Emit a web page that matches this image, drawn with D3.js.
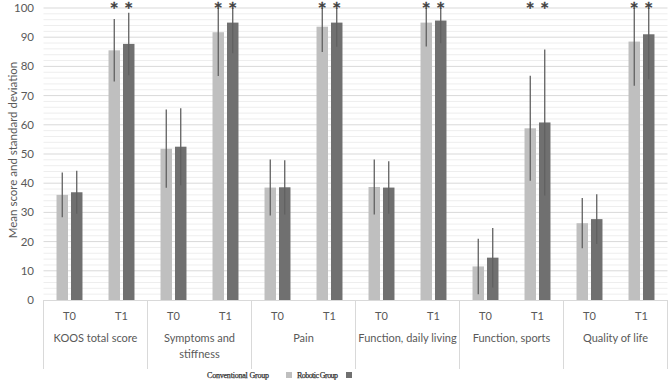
<!DOCTYPE html>
<html>
<head>
<meta charset="utf-8">
<script src="https://cdn.jsdelivr.net/npm/d3@7"></script>
<style>
  body { margin: 0; background: #fff; }
  svg { display: block; }
</style>
</head>
<body>
<svg id="chart"></svg>
<script>
// KOOS scores, conventional vs robotic group, mean and SD
const groups = ["KOOS total score", "Symptoms and stiffness", "Pain", "Function, daily living", "Function, sports", "Quality of life"];
const times = ["T0", "T1"];
const series = ["Conventional Group", "Robotic Group"];
// one value per group x time, in order T0, T1
const convMean = [36.0, 85.5, 51.8, 91.7, 38.5, 93.6, 38.7, 95.0, 11.5, 58.8, 26.3, 88.5];
const convSD   = [7.7, 10.7, 13.4, 15.0, 9.6, 8.7, 9.4, 8.2, 9.5, 18.0, 8.6, 15.1];
const robMean  = [36.9, 87.7, 52.5, 95.0, 38.6, 95.0, 38.5, 95.7, 14.5, 60.8, 27.7, 91.0];
const robSD    = [7.4, 10.7, 13.2, 10.5, 9.3, 8.3, 9.0, 7.8, 10.2, 25.0, 8.5, 15.4];
const significant = [false, true, false, true, false, true, false, true, false, true, false, true];
const yTicks = [0, 10, 20, 30, 40, 50, 60, 70, 80, 90, 100];

const W = 669, H = 380;
const plot = { left: 43.5, right: 667.5, top: 8, bottom: 300 };
const colors = ["#bfbfbf", "#707070"];
const textColor = "#595959";
const font = "Lato, 'Open Sans', sans-serif";

const svg = d3.select("#chart").attr("width", W).attr("height", H);

const x0 = d3.scaleBand().domain(groups).range([plot.left, plot.right]);
const x1 = d3.scaleBand().domain(times).range([0, x0.bandwidth()]);
const x2 = d3.scaleBand().domain(series).range([0, x1.bandwidth()])
    .paddingInner(0.207).paddingOuter(0.9);
const y = d3.scaleLinear().domain([0, 100]).range([plot.bottom, plot.top]);

// gridlines: minor every 2, major every 10
const minor = d3.range(2, 101, 2).filter(v => v % 10 !== 0);
svg.append("g").selectAll("line").data(minor).enter().append("line")
    .attr("x1", plot.left).attr("x2", plot.right)
    .attr("y1", d => y(d)).attr("y2", d => y(d))
    .attr("stroke", "#eeeeee").attr("stroke-width", 1);
svg.append("g").selectAll("line").data(yTicks.filter(v => v > 0)).enter().append("line")
    .attr("x1", plot.left).attr("x2", plot.right)
    .attr("y1", d => y(d)).attr("y2", d => y(d))
    .attr("stroke", "#d9d9d9").attr("stroke-width", 1);

// y labels
svg.append("g").selectAll("text").data(yTicks).enter().append("text")
    .attr("x", 34).attr("y", d => y(d)).attr("dy", "0.35em")
    .attr("text-anchor", "end")
    .style("font-family", font).style("font-size", "11.5px").style("fill", textColor)
    .text(d => d);

svg.append("text")
    .attr("transform", `translate(13,${(plot.top + plot.bottom) / 2 - 4}) rotate(-90)`)
    .attr("text-anchor", "middle").attr("dy", "0.35em")
    .style("font-family", font).style("font-size", "11.5px").style("fill", textColor)
    .text("Mean score and standard deviation");

// flatten data
const rows = [];
groups.forEach((g, gi) => {
    times.forEach((t, ti) => {
        const k = gi * 2 + ti;
        rows.push({ group: g, time: t, series: series[0], mean: convMean[k], sd: convSD[k], c: 0, sig: significant[k] });
        rows.push({ group: g, time: t, series: series[1], mean: robMean[k], sd: robSD[k], c: 1, sig: significant[k] });
    });
});
const bx = d => x0(d.group) + x1(d.time) + x2(d.series);

// bars
svg.append("g").selectAll("rect").data(rows).enter().append("rect")
    .attr("x", bx).attr("width", x2.bandwidth())
    .attr("y", d => y(d.mean)).attr("height", d => y(0) - y(d.mean))
    .attr("fill", d => colors[d.c]);

// error bars (clipped at the axis max)
svg.append("g").selectAll("line").data(rows).enter().append("line")
    .attr("x1", d => bx(d) + x2.bandwidth() / 2).attr("x2", d => bx(d) + x2.bandwidth() / 2)
    .attr("y1", d => y(Math.max(0, d.mean - d.sd)))
    .attr("y2", d => y(Math.min(100, d.mean + d.sd)))
    .attr("stroke", "#606060").attr("stroke-width", 1.3);

// significance markers (thin stroke keeps them grey)
svg.append("g").selectAll("text").data(rows.filter(d => d.sig)).enter().append("text")
    .attr("x", d => bx(d) + x2.bandwidth() / 2).attr("y", 11.5)
    .attr("text-anchor", "middle")
    .style("font-family", "'DejaVu Sans', sans-serif").style("font-size", "14px")
    .style("font-weight", "bold")
    .style("fill", "#404040").style("stroke", "#404040").style("stroke-width", 0.3)
    .text("*");

// x axis line and separators
svg.append("line")
    .attr("x1", plot.left).attr("x2", plot.right)
    .attr("y1", plot.bottom + 0.5).attr("y2", plot.bottom + 0.5)
    .attr("stroke", "#d9d9d9");
const seps = groups.map(g => x0(g)).concat([plot.right]);
svg.append("g").selectAll("line").data(seps).enter().append("line")
    .attr("x1", d => d).attr("x2", d => d)
    .attr("y1", plot.bottom).attr("y2", 369)
    .attr("stroke", "#d9d9d9");

// time labels
const tl = [];
groups.forEach(g => times.forEach(t => tl.push({ g, t })));
svg.append("g").selectAll("text").data(tl).enter().append("text")
    .attr("x", d => x0(d.g) + x1(d.t) + x1.bandwidth() / 2).attr("y", 316).attr("dy", "0.35em")
    .attr("text-anchor", "middle")
    .style("font-family", font).style("font-size", "11px").style("fill", textColor)
    .text(d => d.t);

// group labels, wrapping "Symptoms and stiffness"
const gl = svg.append("g").selectAll("text").data(groups).enter().append("text")
    .attr("x", d => x0(d) + x0.bandwidth() / 2).attr("y", 338).attr("dy", "0.35em")
    .attr("text-anchor", "middle")
    .style("font-family", font).style("font-size", "11px").style("fill", textColor);
gl.each(function (d) {
    const t = d3.select(this);
    const lines = d === "Symptoms and stiffness" ? ["Symptoms and", "stiffness"] : [d];
    lines.forEach((s, i) => {
        t.append("tspan").attr("x", x0(d) + x0.bandwidth() / 2)
            .attr("dy", i === 0 ? "0.35em" : "1.45em").text(s);
    });
});

// legend
const legend = svg.append("g").attr("transform", "translate(0,375)");
const legendText = [207, 297];
const legendBox = [286, 346];
series.forEach((s, i) => {
    legend.append("text")
        .attr("x", legendText[i]).attr("y", 0).attr("dy", "0.35em")
        .attr("textLength", i === 0 ? 62 : 41)
        .style("font-family", "'Liberation Serif', serif").style("font-size", "8px")
        .style("fill", "#333").style("stroke", "#333").style("stroke-width", 0.25)
        .text(s);
    legend.append("rect")
        .attr("x", legendBox[i]).attr("y", -3).attr("width", 6).attr("height", 6)
        .attr("fill", colors[i]);
});
</script>
</body>
</html>
